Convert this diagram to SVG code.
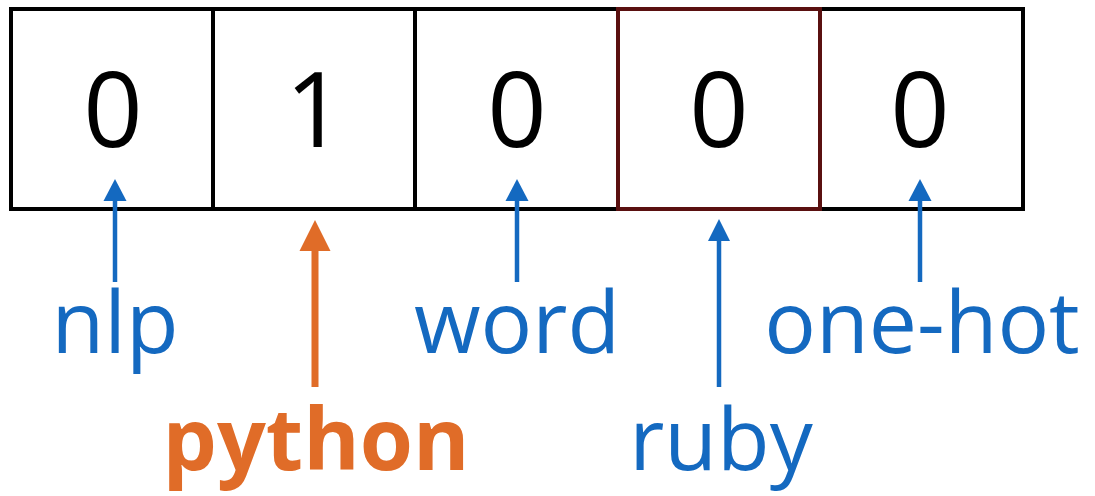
<svg xmlns="http://www.w3.org/2000/svg" width="1095" height="496" viewBox="0 0 1095 496">
<style>
.cell{fill:#fff;stroke:#000;stroke-width:4}
.hot{fill:none;stroke:#5a1010;stroke-width:4}
.digit{font-family:"Open Sans","Liberation Sans",sans-serif;font-size:104px;fill:#000;text-anchor:middle}
.lbl{font-family:"Open Sans","Liberation Sans",sans-serif;font-size:86px;fill:#1469c0;text-anchor:middle}
.py{font-family:"Open Sans","Liberation Sans",sans-serif;font-size:86px;font-weight:bold;fill:#e06c28;text-anchor:middle}
.ab{stroke:#1469c0;stroke-width:4.5;fill:none}
.ao{stroke:#e06c28;stroke-width:7;fill:none}
</style>
<g id="cells">
<g id="cell-nlp"><rect class="cell" x="11" y="9" width="202" height="200"/><text class="digit" x="113" y="147">0</text></g>
<g id="cell-python"><rect class="cell" x="213" y="9" width="202" height="200"/><text class="digit" x="315" y="147">1</text></g>
<g id="cell-word"><rect class="cell" x="415" y="9" width="203" height="200"/><text class="digit" x="517" y="147">0</text></g>
<g id="cell-onehot"><rect class="cell" x="820" y="9" width="203" height="200"/><text class="digit" x="920" y="147">0</text></g>
<g id="cell-ruby"><rect class="cell" x="618" y="9" width="202" height="200"/><rect class="hot" x="618" y="9" width="202" height="200"/><text class="digit" x="719" y="147">0</text></g>
</g>
<g id="connectors">
<line class="ab" x1="115" y1="282" x2="115" y2="198"/><polygon fill="#1469c0" points="115,179 103.5,201 126.5,201"/>
<line class="ao" x1="315" y1="387" x2="315" y2="248"/><polygon fill="#e06c28" points="315,220 299.5,251 330.5,251"/>
<line class="ab" x1="517" y1="282" x2="517" y2="198"/><polygon fill="#1469c0" points="517,179 505.5,201 528.5,201"/>
<line class="ab" x1="719" y1="387" x2="719" y2="238"/><polygon fill="#1469c0" points="719,219 708,241 730,241"/>
<line class="ab" x1="920" y1="282" x2="920" y2="198"/><polygon fill="#1469c0" points="920,179 908.5,201 931.5,201"/>
</g>
<g id="label-nlp"><text class="lbl" x="115" y="353">nlp</text></g>
<g id="label-python"><text class="py" x="316" y="470">python</text></g>
<g id="label-word"><text class="lbl" x="517" y="353">word</text></g>
<g id="label-ruby"><text class="lbl" x="721" y="470">ruby</text></g>
<g id="label-onehot"><text class="lbl" x="922" y="353">one-hot</text></g>
</svg>
